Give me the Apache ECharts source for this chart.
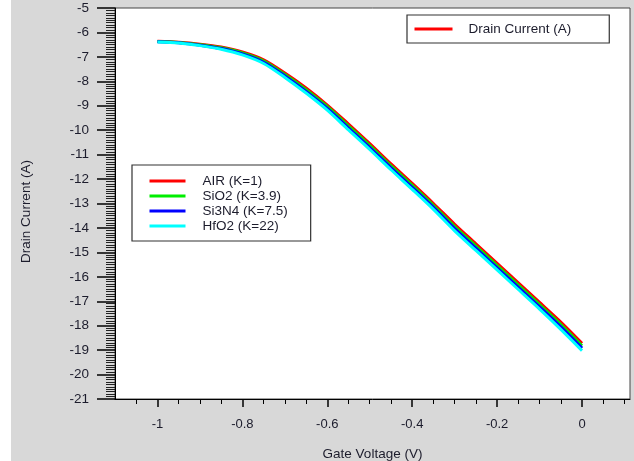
<!DOCTYPE html>
<html>
<head>
<meta charset="utf-8">
<script src="https://cdn.jsdelivr.net/npm/echarts@6/dist/echarts.min.js"></script>
<style>
html,body{margin:0;padding:0;background:#fff;}
#chart{width:634px;height:461px;}
</style>
</head>
<body>
<div id="chart"></div>
<script>
// Gate voltage (V)
const gateVoltage = [-1, -0.95, -0.9, -0.85, -0.8, -0.75, -0.7, -0.65, -0.6, -0.55, -0.5, -0.45, -0.4, -0.35, -0.3, -0.25, -0.2, -0.15, -0.1, -0.05, 0];
// Drain current values
const airK1 =    [-6.36, -6.40, -6.48, -6.60, -6.80, -7.12, -7.66, -8.27, -8.97, -9.75, -10.55, -11.38, -12.18, -13.00, -13.85, -14.65, -15.45, -16.25, -17.05, -17.85, -18.72];
const sio2K39 =  [-6.37, -6.41, -6.50, -6.63, -6.84, -7.17, -7.72, -8.34, -9.04, -9.83, -10.63, -11.46, -12.26, -13.08, -13.94, -14.74, -15.54, -16.34, -17.14, -17.95, -18.82];
const si3n4K75 = [-6.38, -6.42, -6.52, -6.66, -6.88, -7.22, -7.78, -8.41, -9.11, -9.91, -10.71, -11.54, -12.34, -13.16, -14.03, -14.83, -15.63, -16.43, -17.23, -18.05, -18.92];
const hfo2K22 =  [-6.39, -6.43, -6.54, -6.69, -6.92, -7.27, -7.84, -8.48, -9.18, -9.99, -10.79, -11.62, -12.42, -13.24, -14.12, -14.92, -15.72, -16.52, -17.32, -18.15, -19.02];

const seriesNames = ['AIR (K=1)', 'SiO2 (K=3.9)', 'Si3N4 (K=7.5)', 'HfO2 (K=22)'];
const seriesColors = ['#ff0000', '#00ee00', '#0000ff', '#00ffff'];
const seriesValues = [airK1, sio2K39, si3n4K75, hfo2K22];

const xMajorTicks = [-1, -0.8, -0.6, -0.4, -0.2, 0];
const xMinorTicks = [-1.05, -0.95, -0.9, -0.85, -0.75, -0.7, -0.65, -0.55, -0.5, -0.45, -0.35, -0.3, -0.25, -0.15, -0.1, -0.05, 0.05, 0.1];

const xTitle = 'Gate Voltage (V)';
const yTitle = 'Drain Current (A)';
const topLegendText = 'Drain Current (A)';

const textColor = '#1c1c2c';
const font = 'Liberation Sans, Arial, sans-serif';

const chart = echarts.init(document.getElementById('chart'), null, {renderer: 'canvas'});

const series = seriesNames.map((name, i) => ({
  name: name,
  type: 'line',
  data: gateVoltage.map((x, j) => [x, seriesValues[i][j]]),
  symbol: 'none',
  smooth: 0.3,
  color: seriesColors[i],
  lineStyle: {width: 3, color: seriesColors[i]},
  xAxisIndex: 0,
  yAxisIndex: 0,
  animation: false
}));

chart.setOption({
  backgroundColor: '#d8d8d8',
  animation: false,
  textStyle: {fontFamily: font},
  graphic: [{
    type: 'rect',
    left: 0, top: 0,
    shape: {width: 11, height: 461},
    style: {fill: '#ffffff'},
    silent: true
  }],
  grid: {
    left: 115, top: 8, right: 4, bottom: 62,
    containLabel: false,
    outerBoundsMode: 'none',
    show: true,
    backgroundColor: '#ffffff',
    borderColor: '#444',
    borderWidth: 1
  },
  legend: [{
    data: ['AIR (K=1)'],
    formatter: function () { return topLegendText; },
    orient: 'horizontal',
    left: 407, top: 15,
    padding: [7, 38, 7, 6],
    itemWidth: 38, itemHeight: 15,
    itemStyle: {opacity: 0},
    lineStyle: {width: 3},
    backgroundColor: '#ffffff',
    borderColor: '#333',
    borderWidth: 1.2,
    selectedMode: false,
    textStyle: {fontSize: 13.5, color: textColor, fontFamily: font, padding: [0, 0, 0, 11]}
  }, {
    data: seriesNames,
    orient: 'vertical',
    left: 132, top: 165,
    padding: [9, 23, 8, 16],
    itemWidth: 36, itemHeight: 14, itemGap: 1,
    itemStyle: {opacity: 0},
    lineStyle: {width: 3},
    backgroundColor: '#ffffff',
    borderColor: '#333',
    borderWidth: 1.2,
    selectedMode: false,
    textStyle: {fontSize: 13.5, color: textColor, fontFamily: font, lineHeight: 14, padding: [0, 0, 0, 12]}
  }],
  xAxis: [{
    type: 'value',
    min: -1.1, max: 0.113,
    position: 'bottom',
    name: xTitle,
    nameLocation: 'middle',
    nameGap: 48,
    nameTextStyle: {fontSize: 13.5, color: textColor, fontFamily: font},
    axisLine: {show: true, onZero: false, lineStyle: {color: '#000', width: 1}},
    axisTick: {show: true, inside: false, length: 8, customValues: xMajorTicks, lineStyle: {color: '#000', width: 1.5}},
    axisLabel: {show: true, customValues: xMajorTicks, margin: 19, fontSize: 13, color: textColor, fontFamily: font,
      formatter: function (v) { return String(Math.round(v * 10) / 10); }},
    splitLine: {show: false}
  }, {
    type: 'value',
    min: -1.1, max: 0.113,
    position: 'bottom',
    gridIndex: 0,
    axisLine: {show: false, onZero: false},
    axisTick: {show: true, inside: false, length: 5, customValues: xMinorTicks, lineStyle: {color: '#000', width: 1}},
    axisLabel: {show: false},
    splitLine: {show: false}
  }],
  yAxis: [{
    type: 'value',
    min: -21, max: -5, interval: 1,
    name: yTitle,
    nameLocation: 'middle',
    nameGap: 82,
    nameRotate: 90,
    nameTextStyle: {fontSize: 13.5, color: textColor, fontFamily: font, padding: [0, 16, 0, 0]},
    axisLine: {show: true, onZero: false, lineStyle: {color: '#000', width: 1}},
    axisTick: {show: true, inside: false, length: 18, lineStyle: {color: '#000', width: 1.5}},
    minorTick: {show: true, splitNumber: 10, length: 9, lineStyle: {color: '#222', width: 1}},
    axisLabel: {margin: 26, fontSize: 13.5, color: textColor, fontFamily: font},
    splitLine: {show: false},
    minorSplitLine: {show: false}
  }],
  series: series
});
</script>
</body>
</html>
